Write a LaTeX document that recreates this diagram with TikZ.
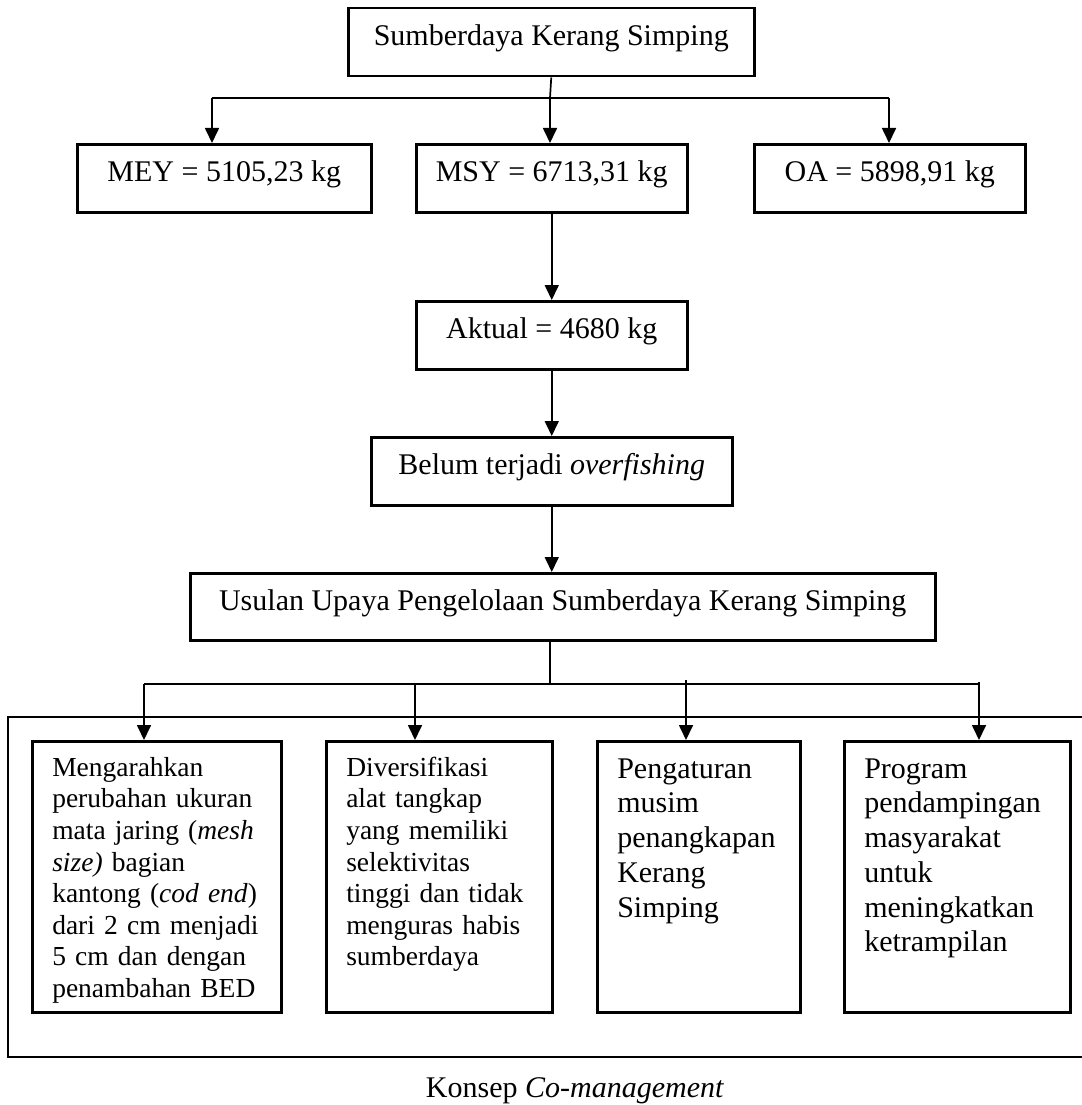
\documentclass[tikz,border=0pt]{standalone}
\usepackage{fontspec}
\setmainfont{Liberation Serif}
\usetikzlibrary{arrows.meta}
\begin{document}
\begin{tikzpicture}[x=1pt,y=-1pt,
  box/.style={draw,line width=2.5pt,inner xsep=0pt,inner ysep=0pt,
    font=\fontsize{30}{34.5}\selectfont,text height=37.5pt,text depth=30.5pt,anchor=north west},
  tallbox/.style={draw,line width=2.5pt,inner xsep=20pt,inner ysep=0pt,align=left,
    anchor=north west},
  smalltext/.style={font=\fontsize{27.5}{31.6}\selectfont,text height=35pt,text depth=236pt},
  bigtext/.style={font=\fontsize{30}{34.7}\selectfont,text height=37pt,text depth=234pt},
  con/.style={line width=1.7pt},
  arr/.style={con,-{Triangle[width=14pt,length=15pt]}}]
\useasboundingbox (0,0) rectangle (1081,1105);

% boxes
\node[box,minimum width=406pt] (top) at (347,7) {Sumberdaya Kerang Simping};
\node[box,minimum width=294pt] (mey) at (76,143) {MEY = 5105,23 kg};
\node[box,minimum width=271pt] (msy) at (415,143) {MSY = 6713,31 kg};
\node[box,minimum width=271pt] (oa) at (753,143) {OA = 5898,91 kg};
\node[box,minimum width=271pt] (akt) at (415,300) {Aktual = 4680 kg};
\node[box,minimum width=361pt] (blm) at (370,436) {Belum terjadi \textit{overfishing}};
\node[box,minimum width=745pt,text depth=29.5pt] (usl) at (189,572) {Usulan Upaya Pengelolaan Sumberdaya Kerang Simping};

% outer frame (Konsep Co-management)
\draw[line width=2.2pt] (1083,717) -- (8,717) -- (8,1057) -- (1083,1057);

\node[tallbox,smalltext,text width=209pt] (b1) at (31,740)
  {Mengarahkan\\perubahan ukuran\\mata jaring (\textit{mesh}\\\textit{size)} bagian\\kantong (\textit{cod end})\\dari 2 cm menjadi\\5 cm dan dengan\\penambahan BED};
\node[tallbox,smalltext,text width=186pt] (b2) at (325,740)
  {Diversifikasi\\alat tangkap\\yang memiliki\\selektivitas\\tinggi dan tidak\\menguras habis\\sumberdaya};
\node[tallbox,bigtext,text width=163pt] (b3) at (596,740)
  {Pengaturan\\musim\\penangkapan\\Kerang\\Simping};
\node[tallbox,bigtext,text width=186pt] (b4) at (843,740)
  {Program\\pendampingan\\masyarakat\\untuk\\meningkatkan\\ketrampilan};

\node[anchor=base,font=\fontsize{30}{34.5}\selectfont] (cap) at (575,1097) {Konsep \textit{Co-management}};

% connectors top level
\coordinate (j0) at (550,98);
\coordinate (jl) at (212,98);
\coordinate (jr) at (889,98);
\draw[con] (top.south) -- (j0);
\draw[con] (jl) -- (jr);
\draw[arr] (jl) -- (jl |- mey.north);
\draw[arr] (j0) -- (j0 |- msy.north);
\draw[arr] (jr) -- (jr |- oa.north);

% chain
\draw[arr] (msy.south) -- (akt.north);
\draw[arr] (akt.south) -- (blm.north);
\draw[arr] (blm.south) -- (blm.south |- usl.north);

% bottom distribution
\coordinate (k0) at (550,684);
\coordinate (k1) at (144,684);
\coordinate (k2) at (415,684);
\coordinate (k3) at (686,680);
\coordinate (k4) at (979,684);
\coordinate (k4t) at (979,682);
\draw[con] (usl.south -| k0) -- (k0);
\draw[con] (k1) -- (k4);
\draw[arr] (k1) -- (k1 |- b1.north);
\draw[arr] (k2) -- (k2 |- b2.north);
\draw[arr] (k3) -- (k3 |- b3.north);
\draw[arr] (k4t) -- (k4t |- b4.north);
\end{tikzpicture}
\end{document}
